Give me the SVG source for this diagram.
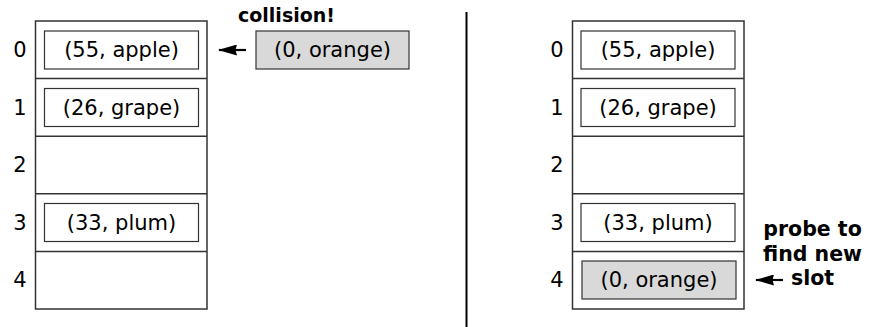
<svg xmlns="http://www.w3.org/2000/svg" width="872" height="327" viewBox="0 0 872 327">
<style>
.tbl{fill:#fff;stroke:#333;stroke-width:1.5}
.row{stroke:#333;stroke-width:1.5}
.cell{fill:#fff;stroke:#333;stroke-width:1.2}
.new{fill:#d9d9d9;stroke:#333;stroke-width:1.2}
.t{font-family:"DejaVu Sans",Verdana,sans-serif;font-size:21px;fill:#000;text-anchor:middle}
.b{font-family:"DejaVu Sans",Verdana,sans-serif;font-size:19px;font-weight:bold;fill:#000;text-anchor:middle}
.b2{font-size:20.5px}
.conn{stroke:#000;stroke-width:2.2;fill:none}
</style>
<defs>
<marker id="ah" viewBox="0 0 19 11" refX="18" refY="5.5" markerWidth="19" markerHeight="11" markerUnits="userSpaceOnUse" orient="auto">
<path d="M0,0 L19,5.5 L0,11 L1.5,5.5 z" fill="#000"/>
</marker>
</defs>
<g id="left-table">
<rect class="tbl" x="35.5" y="21" width="171.5" height="288"/>
<line class="row" x1="35.5" y1="78.6" x2="207" y2="78.6"/>
<line class="row" x1="35.5" y1="136.2" x2="207" y2="136.2"/>
<line class="row" x1="35.5" y1="193.8" x2="207" y2="193.8"/>
<line class="row" x1="35.5" y1="251.4" x2="207" y2="251.4"/>
<text class="t" x="20" y="57">0</text>
<text class="t" x="20" y="114.5">1</text>
<text class="t" x="20" y="172">2</text>
<text class="t" x="20" y="229.5">3</text>
<text class="t" x="20" y="287">4</text>
</g>
<g id="l-apple"><rect class="cell" x="44.5" y="31" width="154" height="38"/><text class="t" x="121.5" y="57">(55, apple)</text></g>
<g id="l-grape"><rect class="cell" x="44.5" y="88.5" width="154" height="38"/><text class="t" x="121.5" y="114.5">(26, grape)</text></g>
<g id="l-plum"><rect class="cell" x="44.5" y="203.5" width="154" height="38"/><text class="t" x="121.5" y="229.5">(33, plum)</text></g>
<g id="l-orange"><rect class="new" x="256" y="31" width="153" height="38"/><text class="t" x="332.5" y="57">(0, orange)</text></g>
<g id="collision-label"><text class="b" x="286.5" y="22">collision!</text></g>
<g id="divider"><line x1="466.5" y1="12" x2="466.5" y2="327" stroke="#000" stroke-width="2"/></g>
<g id="right-table">
<rect class="tbl" x="572.5" y="21" width="171.5" height="288"/>
<line class="row" x1="572.5" y1="78.6" x2="744" y2="78.6"/>
<line class="row" x1="572.5" y1="136.2" x2="744" y2="136.2"/>
<line class="row" x1="572.5" y1="193.8" x2="744" y2="193.8"/>
<line class="row" x1="572.5" y1="251.4" x2="744" y2="251.4"/>
<text class="t" x="557" y="57">0</text>
<text class="t" x="557" y="114.5">1</text>
<text class="t" x="557" y="172">2</text>
<text class="t" x="557" y="229.5">3</text>
<text class="t" x="557" y="287">4</text>
</g>
<g id="r-apple"><rect class="cell" x="581" y="31" width="154" height="38"/><text class="t" x="658" y="57">(55, apple)</text></g>
<g id="r-grape"><rect class="cell" x="581" y="88.5" width="154" height="38"/><text class="t" x="658" y="114.5">(26, grape)</text></g>
<g id="r-plum"><rect class="cell" x="581" y="203.5" width="154" height="38"/><text class="t" x="658" y="229.5">(33, plum)</text></g>
<g id="r-orange"><rect class="new" x="582" y="261" width="154" height="38"/><text class="t" x="659" y="287">(0, orange)</text></g>
<g id="probe-label">
<text class="b b2" x="812.5" y="236">probe to</text>
<text class="b b2" x="812.5" y="260.5">find new</text>
<text class="b b2" x="812.5" y="285">slot</text>
</g>
<g id="connectors">
<line class="conn" x1="246" y1="50" x2="219" y2="50" marker-end="url(#ah)"/>
<line class="conn" x1="783" y1="280" x2="756" y2="280" marker-end="url(#ah)"/>
</g>
</svg>
